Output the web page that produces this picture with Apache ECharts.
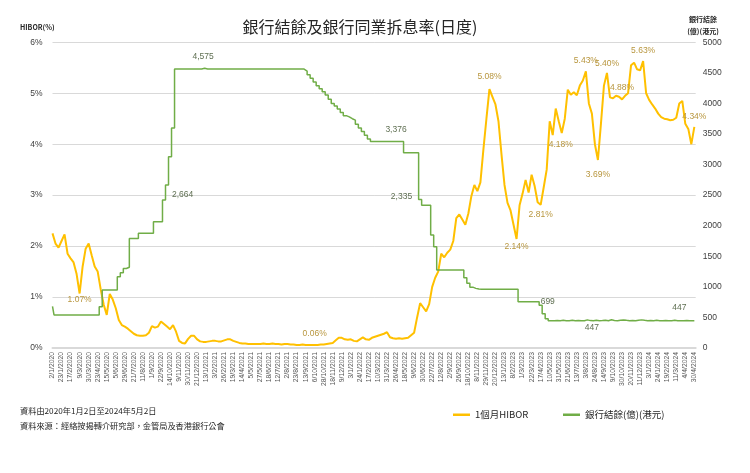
<!DOCTYPE html>
<html><head><meta charset="utf-8">
<script src="https://cdn.jsdelivr.net/npm/echarts@6/dist/echarts.min.js"></script>
<style>html,body{margin:0;padding:0;background:#fff}#c{width:750px;height:473px}</style>
</head><body><div id="c"></div>
<script>
// x-axis tick labels (one every 15 business days)
const tickLabels = [
 '2/1/2020','23/1/2020','17/2/2020','9/3/2020','30/3/2020','23/4/2020','15/5/2020','5/6/2020','29/6/2020','21/7/2020','11/8/2020','1/9/2020','22/9/2020','14/10/2020','9/11/2020','30/11/2020','21/12/2020',
 '13/1/2021','3/2/2021','26/2/2021','19/3/2021','14/4/2021','5/5/2021','27/5/2021','18/6/2021','12/7/2021','2/8/2021','23/8/2021','13/9/2021','6/10/2021','28/10/2021','18/11/2021','9/12/2021',
 '3/1/2022','24/1/2022','17/2/2022','10/3/2022','31/3/2022','26/4/2022','18/5/2022','9/6/2022','30/6/2022','22/7/2022','12/8/2022','2/9/2022','26/9/2022','18/10/2022','8/11/2022','29/11/2022','20/12/2022',
 '13/1/2023','8/2/2023','1/3/2023','22/3/2023','17/4/2023','10/5/2023','31/5/2023','21/6/2023','13/7/2023','3/8/2023','24/8/2023','14/9/2023','9/10/2023','30/10/2023','20/11/2023','11/12/2023',
 '3/1/2024','24/1/2024','19/2/2024','11/3/2024','4/4/2024','30/4/2024'
];
// samples: 3 per tick interval (about weekly)
const samplesPerTick = 3;
// 1-month HIBOR (%)
const hibor = [
 2.25,2.05,1.97,2.10,2.23,1.85,1.76,1.68,1.45,1.07,
 1.60,1.95,2.05,1.82,1.60,1.50,1.15,0.85,0.65,1.06,
 0.95,0.78,0.55,0.45,0.42,0.38,0.33,0.28,0.25,0.24,
 0.24,0.25,0.30,0.43,0.40,0.42,0.52,0.47,0.42,0.37,
 0.45,0.32,0.14,0.10,0.09,0.18,0.24,0.24,0.17,0.13,
 0.12,0.12,0.13,0.14,0.14,0.13,0.13,0.15,0.17,0.17,
 0.14,0.12,0.10,0.09,0.09,0.08,0.08,0.08,0.08,0.08,
 0.09,0.08,0.08,0.09,0.08,0.08,0.07,0.08,0.08,0.07,
 0.07,0.06,0.06,0.07,0.06,0.06,0.06,0.06,0.06,0.07,
 0.07,0.08,0.09,0.10,0.15,0.20,0.20,0.17,0.16,0.17,
 0.14,0.13,0.17,0.21,0.17,0.16,0.20,0.22,0.24,0.26,
 0.28,0.31,0.21,0.19,0.18,0.19,0.18,0.19,0.20,0.25,
 0.30,0.60,0.88,0.80,0.72,0.86,1.20,1.38,1.50,1.85,
 1.78,1.87,1.93,2.10,2.55,2.62,2.52,2.42,2.64,2.98,
 3.20,3.08,3.25,3.90,4.50,5.08,4.93,4.78,4.45,3.80,
 3.20,2.85,2.70,2.42,2.14,2.80,3.03,3.30,3.05,3.40,
 3.18,2.86,2.81,3.15,3.50,4.45,4.18,4.70,4.45,4.22,
 4.50,5.07,4.97,5.02,4.96,5.15,5.25,5.43,4.80,4.60,
 4.00,3.69,4.40,5.15,5.40,4.92,4.90,4.95,4.93,4.88,
 4.95,5.00,5.55,5.60,5.47,5.45,5.63,5.00,4.87,4.78,
 4.70,4.60,4.53,4.50,4.49,4.47,4.48,4.52,4.80,4.85,
 4.40,4.30,4.00,4.34
];
// Aggregate balance (HK$ 100 million)
const balance = [
 680,
 540,540,540,540,540,540,540,540,540,540,540,540,540,540,540,
 675,
 948,948,948,948,948,
 1166,1230,1300,1320,
 1793,1793,1793,
 1875,1875,1875,1875,1875,
 2065,2065,2065,
 2420,2664,3128,3600,
 4562,4562,4562,4562,4562,4562,4562,4562,4562,4575,4562,4562,4562,4562,4562,4562,4562,4562,4562,4562,4562,4562,
 4562,4562,4562,4562,4562,4562,4562,4562,4562,4562,4562,4562,4562,4562,4562,4562,4562,4562,4562,4562,4562,
 4530,4470,4410,4350,4290,4240,4191,4140,4070,4000,3960,3910,3850,3800,3780,3750,3728,3660,3600,3540,3480,3420,
 3376,3376,3376,3376,3376,3376,3376,3376,3376,3376,3376,
 3193,3193,3193,3193,3193,
 2430,
 2335,2335,2335,
 1850,1656,
 1275,1275,1275,1275,1275,1275,1275,1275,1275,
 1150,1060,995,975,965,
 960,960,960,960,960,960,960,960,960,960,960,960,960,
 757,757,757,757,757,757,757,
 699,560,480,
 447,447,450,447,452,447,447,455,447,450,447,447,460,448,447,452,447,450,455,447,
 462,450,447,455,458,452,447,450,447,455,460,452,447,448,447,452,447,447,450,447,
 447,452,447,447,447,450,447,447,447
];
// annotated samples
const hiborNotes = [
 {k:9,pos:'bottom',d:2},{k:87,pos:'top',d:7},{k:145,pos:'top',d:8},{k:154,pos:'bottom',d:3},
 {k:162,pos:'bottom',d:5},{k:166,pos:'bottom',d:5,dx:8},{k:177,pos:'top',d:6},{k:184,pos:'top',d:5},
 {k:189,pos:'top',d:7},{k:196,pos:'top',d:6},{k:181,pos:'bottom',d:10},{k:213,pos:'top',d:6}
];
const balanceNotes = [
 {k:50,pos:'top',d:7},{k:38,pos:'right',d:5,dy:10},{k:114,pos:'top',d:7},{k:123,pos:'left',d:11,dy:-9},
 {k:162,pos:'right',d:0,dy:-4},{k:179,pos:'bottom',d:2},{k:208,pos:'top',d:9}
];

const YEL = '#FFC000', GRN = '#70AD47';
function build(values, notes, fmt, color) {
  return values.map((v, k) => {
    const item = { value: [k / samplesPerTick, v] };
    const n = notes.find(o => o.k === k);
    if (n) {
      item.label = { show: true, position: n.pos, distance: n.d, offset: [n.dx || 0, n.dy || 0],
        formatter: () => fmt(v), color: color, fontSize: 8.5, fontFamily: 'Liberation Sans' };
    }
    return item;
  });
}
const chart = echarts.init(document.getElementById('c'));
const txt = { fontFamily: 'Noto Sans CJK TC', fill: '#262626' };
chart.setOption({
  animation: false,
  backgroundColor: '#fff',
  grid: { left: 52.5, right: 54.3, top: 42.3, bottom: 125 },
  xAxis: {
    type: 'value', min: 0, max: 71.15, interval: 1,
    axisLine: { show: true, lineStyle: { color: '#D9D9D9', width: 2 } },
    axisTick: { show: false }, splitLine: { show: false },
    axisLabel: { rotate: 90, fontSize: 6.8, color: '#595959', margin: 4, showMaxLabel: false,
      fontFamily: 'Liberation Sans',
      formatter: v => (Number.isInteger(v) && tickLabels[v]) ? tickLabels[v] : '' }
  },
  yAxis: [
    { type: 'value', min: 0, max: 6, interval: 1, position: 'left',
      axisLine: { show: false }, axisTick: { show: false },
      splitLine: { lineStyle: { color: '#D9D9D9', width: 1 } },
      axisLabel: { formatter: '{value}%', fontSize: 8.5, color: '#404040', margin: 10, fontFamily: 'Liberation Sans' } },
    { type: 'value', min: 0, max: 5000, interval: 500, position: 'right',
      axisLine: { show: false }, axisTick: { show: false }, splitLine: { show: false },
      axisLabel: { fontSize: 8.5, color: '#404040', margin: 7, fontFamily: 'Liberation Sans', formatter: v => String(v) } }
  ],
  legend: [
    { data: ['1個月HIBOR'], left: 448, top: 405, icon: 'rect', itemWidth: 17, itemHeight: 2.5, itemGap: 0,
      textStyle: { fontSize: 9.5, color: '#262626', fontFamily: 'Noto Sans CJK TC' } },
    { data: ['銀行結餘(億)(港元)'], left: 558, top: 405, icon: 'rect', itemWidth: 17, itemHeight: 2.5, itemGap: 0,
      textStyle: { fontSize: 9.5, color: '#262626', fontFamily: 'Noto Sans CJK TC' } }
  ],
  series: [
    { name: '1個月HIBOR', type: 'line', yAxisIndex: 0, showSymbol: true, showAllSymbol: true, symbolSize: 0,
      lineStyle: { color: YEL, width: 2 }, itemStyle: { color: YEL },
      data: build(hibor, hiborNotes, v => v.toFixed(2) + '%', '#B8963E') },
    { name: '銀行結餘(億)(港元)', type: 'line', yAxisIndex: 1, step: 'middle', showSymbol: true, showAllSymbol: true, symbolSize: 0,
      lineStyle: { color: GRN, width: 1.5 }, itemStyle: { color: GRN },
      data: build(balance, balanceNotes, v => v.toLocaleString('en-US'), '#5F6F52') }
  ],
  graphic: [
    { type: 'text', x: 360, y: 27, style: Object.assign({ text: '銀行結餘及銀行同業拆息率(日度)', fontSize: 16, textAlign: 'center', textVerticalAlign: 'middle' }, txt) },
    { type: 'text', x: 20, y: 27, style: Object.assign({ text: 'HIBOR(%)', fontSize: 7, fontWeight: 'bold', textVerticalAlign: 'middle' }, txt) },
    { type: 'text', x: 703, y: 19, style: Object.assign({ text: '銀行結餘', fontSize: 7, fontWeight: 'bold', textAlign: 'center', textVerticalAlign: 'middle' }, txt) },
    { type: 'text', x: 703, y: 31, style: Object.assign({ text: '(億)(港元)', fontSize: 7, fontWeight: 'bold', textAlign: 'center', textVerticalAlign: 'middle' }, txt) },
    { type: 'text', x: 20, y: 411, style: Object.assign({ text: '資料由2020年1月2日至2024年5月2日', fontSize: 8.2, textVerticalAlign: 'middle' }, txt) },
    { type: 'text', x: 20, y: 426, style: Object.assign({ text: '資料來源：經絡按揭轉介研究部，金管局及香港銀行公會', fontSize: 8.2, textVerticalAlign: 'middle' }, txt) }
  ]
});
</script></body></html>
